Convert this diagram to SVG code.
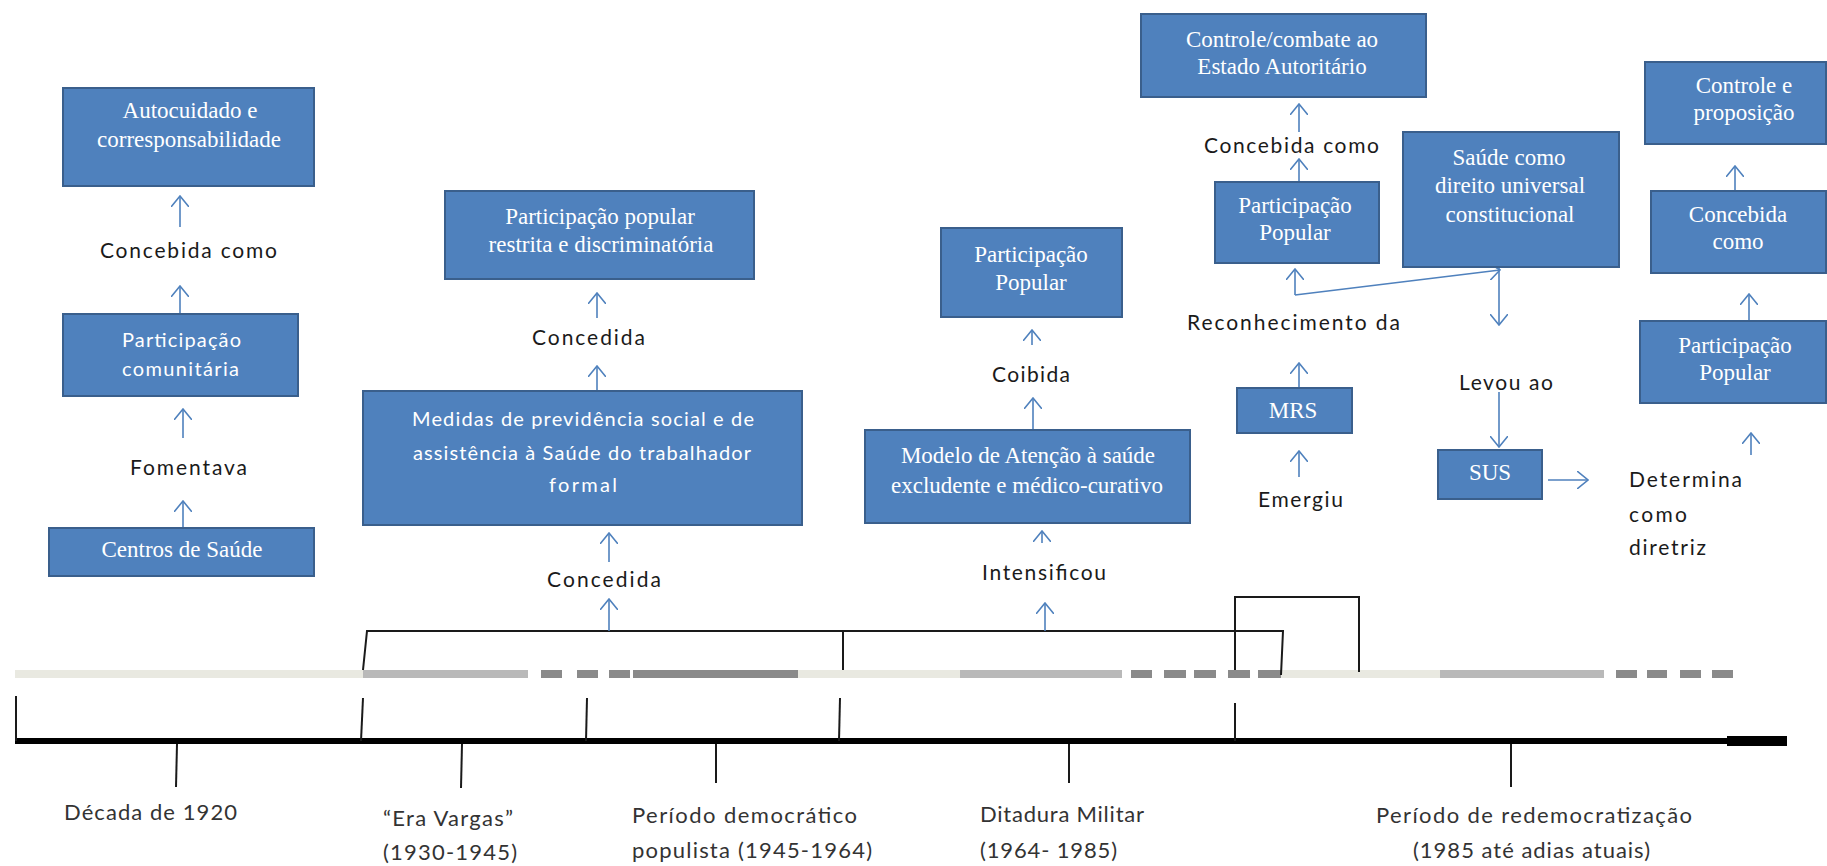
<svg xmlns="http://www.w3.org/2000/svg" width="1827" height="866" viewBox="0 0 1827 866">
<style>
.box{fill:#4f81bd;stroke:#3a5f8c;stroke-width:2}
.bt{font-family:"Liberation Serif","Times New Roman",serif;font-size:23px;fill:#fff;text-anchor:middle}
.bs{font-family:Lato,"Liberation Sans",sans-serif;font-size:20px;fill:#fff}
.lb{font-family:Lato,"Liberation Sans",sans-serif;font-size:21px;fill:#1a1a1a}
.tl{font-family:Lato,"Liberation Sans",sans-serif;font-size:22px;fill:#333}
.arr{stroke:#4f81bd;stroke-width:1.6;fill:none;marker-end:url(#ah)}
.blk{stroke:#1a1a1a;stroke-width:2;fill:none}
.lt{fill:#e9e9e1}.md{fill:#b9b9b9}.dk{fill:#8a8a8a}
</style>
<defs>
<marker id="ah" viewBox="0 0 12 18" refX="11" refY="9" markerWidth="12" markerHeight="18" markerUnits="userSpaceOnUse" orient="auto">
<path d="M0,0 L11,9 L0,18" fill="none" stroke="#4f81bd" stroke-width="1.6"/>
</marker>
</defs>
<rect width="1827" height="866" fill="#fff"/>

<g id="timeline">
<rect class="lt" x="15" y="670" width="348" height="8"/>
<rect class="md" x="363" y="670" width="165" height="8"/>
<rect class="dk" x="541" y="670" width="21" height="8"/>
<rect class="dk" x="577" y="670" width="21" height="8"/>
<rect class="dk" x="609" y="670" width="21" height="8"/>
<rect class="dk" x="633" y="670" width="165" height="8"/>
<rect class="lt" x="798" y="670" width="162" height="8"/>
<rect class="md" x="960" y="670" width="162" height="8"/>
<rect class="dk" x="1131" y="670" width="21" height="8"/>
<rect class="dk" x="1164" y="670" width="22" height="8"/>
<rect class="dk" x="1194" y="670" width="22" height="8"/>
<rect class="dk" x="1228" y="670" width="22" height="8"/>
<rect class="dk" x="1258" y="670" width="23" height="8"/>
<rect class="lt" x="1281" y="670" width="159" height="8"/>
<rect class="md" x="1440" y="670" width="164" height="8"/>
<rect class="dk" x="1616" y="670" width="21" height="8"/>
<rect class="dk" x="1647" y="670" width="20" height="8"/>
<rect class="dk" x="1680" y="670" width="21" height="8"/>
<rect class="dk" x="1712" y="670" width="21" height="8"/>
<line x1="15" y1="741" x2="1787" y2="741" stroke="#000" stroke-width="6"/>
<rect x="1727" y="736" width="60" height="10" fill="#000"/>
<g class="blk">
<line x1="16" y1="696" x2="16" y2="741"/>
<line x1="363" y1="698" x2="361" y2="741"/>
<line x1="587" y1="698" x2="586" y2="741"/>
<line x1="840" y1="698" x2="839" y2="741"/>
<line x1="1235" y1="703" x2="1235" y2="741"/>
<line x1="177" y1="744" x2="176" y2="787"/>
<line x1="462" y1="744" x2="461" y2="788"/>
<line x1="716" y1="744" x2="716" y2="783"/>
<line x1="1069" y1="744" x2="1069" y2="783"/>
<line x1="1511" y1="744" x2="1511" y2="787"/>
</g>
<text class="tl" x="64" y="820" textLength="173" lengthAdjust="spacing">Década de 1920</text>
<text class="tl" x="383" y="826" textLength="130" lengthAdjust="spacing">“Era Vargas”</text>
<text class="tl" x="383" y="860" textLength="134" lengthAdjust="spacing">(1930-1945)</text>
<text class="tl" x="632" y="823" textLength="225" lengthAdjust="spacing">Período democrático</text>
<text class="tl" x="632" y="858" textLength="240" lengthAdjust="spacing">populista (1945-1964)</text>
<text class="tl" x="980" y="822" textLength="164" lengthAdjust="spacing">Ditadura Militar</text>
<text class="tl" x="980" y="858" textLength="137" lengthAdjust="spacing">(1964- 1985)</text>
<text class="tl" x="1376" y="823" textLength="316" lengthAdjust="spacing">Período de redemocratização</text>
<text class="tl" x="1413" y="858" textLength="237" lengthAdjust="spacing">(1985 até adias atuais)</text>
</g>

<g id="connectors">
<g class="blk">
<polyline points="363,670 367,631 1283,631 1281,675"/>
<line x1="843" y1="631" x2="843" y2="670"/>
<polyline points="1235,670 1235,597 1359,597 1359,672"/>
</g>
<line class="arr" x1="180" y1="227" x2="180" y2="196"/>
<line class="arr" x1="180" y1="313" x2="180" y2="286"/>
<line class="arr" x1="183" y1="438" x2="183" y2="409"/>
<line class="arr" x1="183" y1="528" x2="183" y2="501"/>
<line class="arr" x1="597" y1="318" x2="597" y2="293"/>
<line class="arr" x1="597" y1="390" x2="597" y2="366"/>
<line class="arr" x1="609" y1="562" x2="609" y2="533"/>
<line class="arr" x1="609" y1="631" x2="609" y2="599"/>
<line class="arr" x1="1032" y1="345" x2="1032" y2="330"/>
<line class="arr" x1="1033" y1="430" x2="1033" y2="398"/>
<line class="arr" x1="1042" y1="543" x2="1042" y2="531"/>
<line class="arr" x1="1045" y1="631" x2="1045" y2="603"/>
<line class="arr" x1="1299" y1="132" x2="1299" y2="104"/>
<line class="arr" x1="1299" y1="182" x2="1299" y2="159"/>
<line class="arr" x1="1295" y1="295" x2="1295" y2="269"/>
<line class="arr" x1="1295" y1="295" x2="1500" y2="270"/>
<line class="arr" x1="1499" y1="267" x2="1499" y2="325"/>
<line class="arr" x1="1299" y1="388" x2="1299" y2="363"/>
<line class="arr" x1="1299" y1="477" x2="1299" y2="451"/>
<line class="arr" x1="1499" y1="392" x2="1499" y2="447"/>
<line class="arr" x1="1548" y1="480" x2="1588" y2="480"/>
<line class="arr" x1="1735" y1="190" x2="1735" y2="166"/>
<line class="arr" x1="1749" y1="320" x2="1749" y2="294"/>
<line class="arr" x1="1751" y1="455" x2="1751" y2="433"/>
</g>

<g id="labels">
<text class="lb" x="100" y="258" textLength="177" lengthAdjust="spacing">Concebida como</text>
<text class="lb" x="130" y="475" textLength="117" lengthAdjust="spacing">Fomentava</text>
<text class="lb" x="532" y="345" textLength="113" lengthAdjust="spacing">Concedida</text>
<text class="lb" x="547" y="587" textLength="114" lengthAdjust="spacing">Concedida</text>
<text class="lb" x="992" y="382" textLength="78" lengthAdjust="spacing">Coibida</text>
<text class="lb" x="982" y="580" textLength="124" lengthAdjust="spacing">Intensificou</text>
<text class="lb" x="1204" y="153" textLength="175" lengthAdjust="spacing">Concebida como</text>
<text class="lb" x="1187" y="330" textLength="213" lengthAdjust="spacing">Reconhecimento da</text>
<text class="lb" x="1258" y="507" textLength="85" lengthAdjust="spacing">Emergiu</text>
<text class="lb" x="1459" y="390" textLength="94" lengthAdjust="spacing">Levou ao</text>
<text class="lb" x="1629" y="487" textLength="113" lengthAdjust="spacing">Determina</text>
<text class="lb" x="1629" y="522" textLength="58" lengthAdjust="spacing">como</text>
<text class="lb" x="1629" y="555" textLength="77" lengthAdjust="spacing">diretriz</text>
</g>

<g id="n-autocuidado">
<rect class="box" x="63" y="88" width="251" height="98"/>
<text class="bt" x="190" y="118">Autocuidado e</text>
<text class="bt" x="189" y="147">corresponsabilidade</text>
</g>
<g id="n-participacao-comunitaria">
<rect class="box" x="63" y="314" width="235" height="82"/>
<text class="bs" x="122" y="347" textLength="119" lengthAdjust="spacing">Participação</text>
<text class="bs" x="122" y="376" textLength="117" lengthAdjust="spacing">comunitária</text>
</g>
<g id="n-centros">
<rect class="box" x="49" y="528" width="265" height="48"/>
<text class="bt" x="182" y="557">Centros de Saúde</text>
</g>
<g id="n-part-restrita">
<rect class="box" x="445" y="191" width="309" height="88"/>
<text class="bt" x="600" y="224">Participação  popular</text>
<text class="bt" x="601" y="252">restrita e discriminatória</text>
</g>
<g id="n-medidas">
<rect class="box" x="363" y="391" width="439" height="134"/>
<text class="bs" x="412" y="426" textLength="342" lengthAdjust="spacing">Medidas de previdência social e de</text>
<text class="bs" x="413" y="460" textLength="338" lengthAdjust="spacing">assistência à Saúde do trabalhador</text>
<text class="bs" x="549" y="492" textLength="68" lengthAdjust="spacing">formal</text>
</g>
<g id="n-part-popular-1">
<rect class="box" x="941" y="228" width="181" height="89"/>
<text class="bt" x="1031" y="262">Participação</text>
<text class="bt" x="1031" y="290">Popular</text>
</g>
<g id="n-modelo">
<rect class="box" x="865" y="430" width="325" height="93"/>
<text class="bt" x="1028" y="463">Modelo de Atenção à saúde</text>
<text class="bt" x="1027" y="493">excludente  e médico-curativo</text>
</g>
<g id="n-controle-combate">
<rect class="box" x="1141" y="14" width="285" height="83"/>
<text class="bt" x="1282" y="47">Controle/combate  ao</text>
<text class="bt" x="1282" y="74">Estado  Autoritário</text>
</g>
<g id="n-part-popular-2">
<rect class="box" x="1215" y="182" width="164" height="81"/>
<text class="bt" x="1295" y="213">Participação</text>
<text class="bt" x="1295" y="240">Popular</text>
</g>
<g id="n-saude-direito">
<rect class="box" x="1403" y="132" width="216" height="135"/>
<text class="bt" x="1509" y="165">Saúde como</text>
<text class="bt" x="1510" y="193">direito  universal</text>
<text class="bt" x="1510" y="222">constitucional</text>
</g>
<g id="n-mrs">
<rect class="box" x="1237" y="388" width="115" height="45"/>
<text class="bt" x="1293" y="418">MRS</text>
</g>
<g id="n-sus">
<rect class="box" x="1438" y="450" width="104" height="49"/>
<text class="bt" x="1490" y="480">SUS</text>
</g>
<g id="n-controle-proposicao">
<rect class="box" x="1645" y="62" width="181" height="82"/>
<text class="bt" x="1744" y="93">Controle e</text>
<text class="bt" x="1744" y="120">proposição</text>
</g>
<g id="n-concebida">
<rect class="box" x="1651" y="191" width="175" height="82"/>
<text class="bt" x="1738" y="222">Concebida</text>
<text class="bt" x="1738" y="249">como</text>
</g>
<g id="n-part-popular-3">
<rect class="box" x="1640" y="321" width="186" height="82"/>
<text class="bt" x="1735" y="353">Participação</text>
<text class="bt" x="1735" y="380">Popular</text>
</g>
</svg>
